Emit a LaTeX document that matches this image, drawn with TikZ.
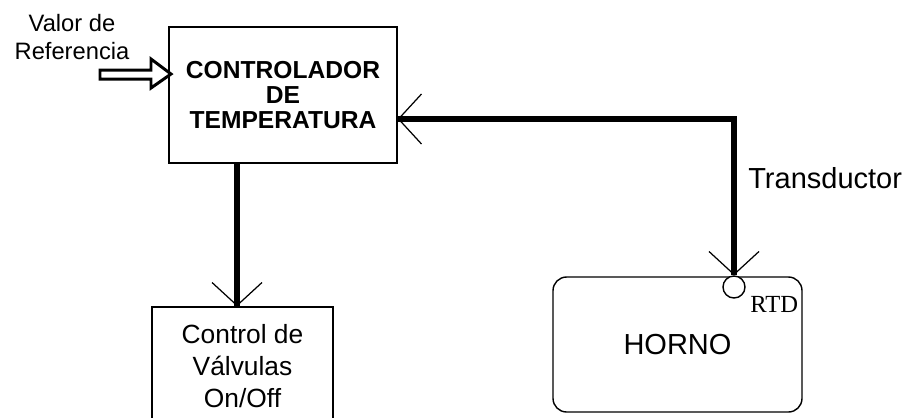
\documentclass[tikz,border=0pt]{standalone}
\usepackage{fontspec}
\setmainfont{Liberation Sans}
\newfontfamily\rtdfont{Liberation Serif}
\usetikzlibrary{arrows.meta}

\begin{document}
\begin{tikzpicture}[x=0.02cm, y=-0.02cm,
    bloque/.style={draw, line width=0.8pt, align=center},
    senal/.style={line width=3.7pt},
    punta/.style={line width=0.7pt, -{Straight Barb[length=0.46cm, width=1.0cm, line width=0.7pt 0]}}]

        \useasboundingbox (0,0) rectangle (913,417);

        \node[bloque, minimum width=4.56cm, minimum height=2.72cm, font=\bfseries\fontsize{14}{14.2}\selectfont] (ctrl) at (283,95) {CONTROLADOR\\DE\\TEMPERATURA};
        \node[bloque, minimum width=3.62cm, minimum height=2.36cm, font=\fontsize{15}{18.4}\selectfont] (valv) at (242.5,366) {Control de\\Válvulas\\On/Off};
        \node[bloque, rounded corners=0.27cm, minimum width=4.98cm, minimum height=2.7cm, font=\fontsize{16.5}{18}\selectfont] (horno) at (677.5,344.5) {HORNO};
        \node[draw, circle, fill=white, line width=0.8pt, minimum size=0.44cm, inner sep=0pt] (rtd) at (734,287) {};

        \node[align=center, font=\fontsize{13.5}{15.9}\selectfont] (ref) at (72,37) {Valor de\\Referencia};
        \node[anchor=base west, inner sep=0pt, font=\fontsize{16.5}{18}\selectfont] (trans) at (748,188) {Transductor};
        \node[anchor=base west, inner sep=0pt, font=\rtdfont\fontsize{14}{16}\selectfont] (rtdlbl) at (750,312) {RTD};

        % valor de referencia
        \draw[line width=1.7pt, fill=white] (100,70) -- (151,70) -- (151,59) -- (171,74) -- (151,88) -- (151,79) -- (100,79) -- cycle;

        % salida hacia las valvulas
        \coordinate (sal) at ([xshift=-0.92cm]ctrl.south);
        \draw[senal] (sal) -- (sal |- valv.north);
        \draw[punta] ([yshift=0.6cm]sal |- valv.north) -- (sal |- valv.north);

        % realimentacion del transductor
        \coordinate (fbin) at ([yshift=-0.48cm]ctrl.east);
        \draw[senal] (rtd.north) |- (fbin);
        \draw[punta] ([xshift=0.6cm]fbin) -- (fbin);
        \draw[punta] ([yshift=0.6cm]rtd.north) -- (rtd.north);

    \end{tikzpicture}
\end{document}
